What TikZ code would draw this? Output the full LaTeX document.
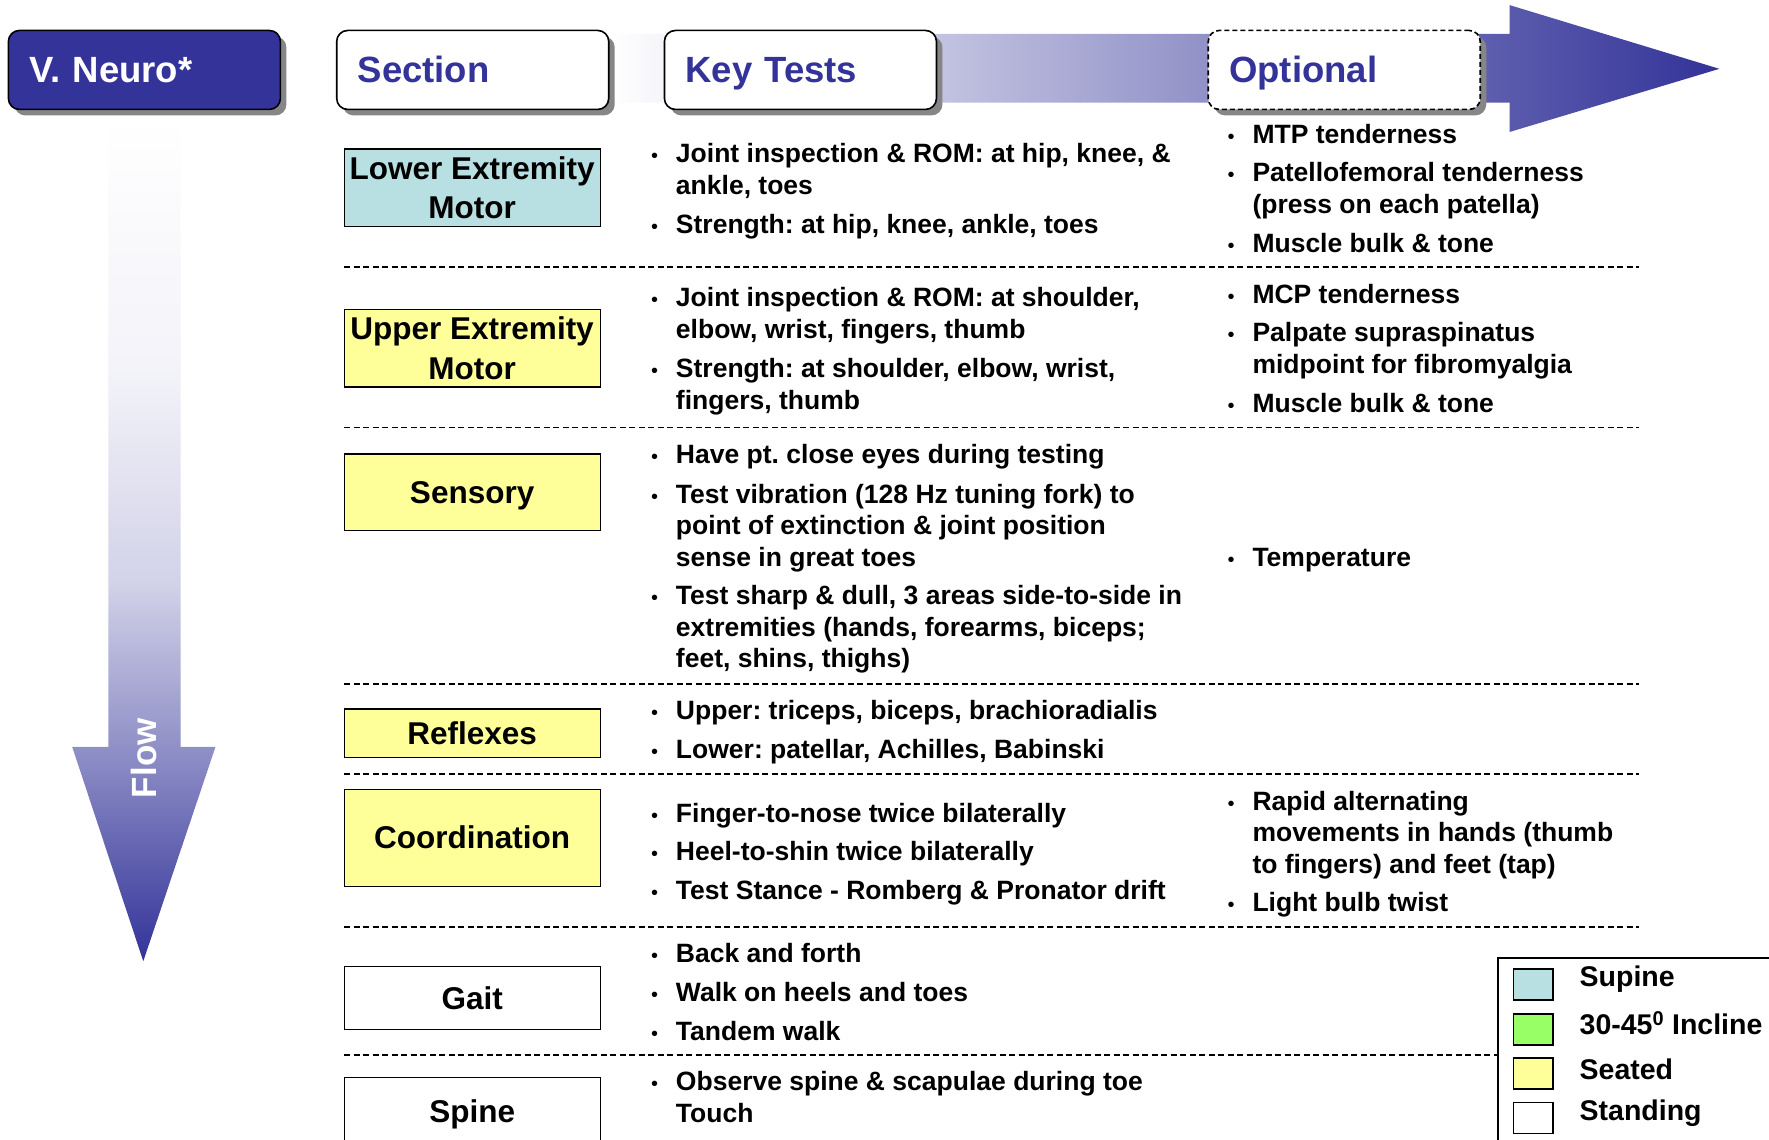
\documentclass[tikz,border=0pt]{standalone}
\usepackage{fontspec}
\setmainfont{Liberation Sans}
\usetikzlibrary{shadows}
\frenchspacing
\definecolor{navy}{HTML}{333399}
\definecolor{lblue}{HTML}{B8DFE2}
\definecolor{lyellow}{HTML}{FFFF99}
\definecolor{lgreen}{HTML}{99FF66}
\pgfdeclareverticalshading{flowshade}{100bp}{color(0bp)=(navy); color(25bp)=(navy);
  color(37.5bp)=(white!45!navy); color(47.5bp)=(white!78!navy);
  color(60bp)=(white!94!navy); color(75bp)=(white); color(100bp)=(white)}
\newcommand\toplines[1]{\begin{tabular}[t]{@{}l@{}}#1\end{tabular}}
\newcommand\kt[3]{\node[bul] (#1b) at (577,#2) {•}; \node[body] (#1) at (599,#2) {\toplines{#3}};}
\newcommand\op[3]{\node[bul] (#1b) at (1088,#2) {•}; \node[body] (#1) at (1110,#2) {\toplines{#3}};}
\begin{document}
\begin{tikzpicture}[x=1.1282pt,y=-1.1282pt,
  hdr/.style={draw=black, line width=1.6pt, rounded corners=11pt, fill=white,
    minimum width=272pt, minimum height=79pt, text width=230pt, inner xsep=21pt,
    text height=31pt, text depth=5pt,
    align=left, font=\bfseries\fontsize{36.5}{40}\selectfont, text=navy,
    drop shadow={shadow xshift=6pt, shadow yshift=-6pt, fill=gray!95, opacity=1}},
  sec/.style={draw=black, line width=1.3pt, minimum width=256pt, inner sep=0pt,
    align=center, font=\bfseries\fontsize{31.5}{39.5}\selectfont},
  sec1/.style={sec, text height=22.6pt, text depth=0pt},
  body/.style={anchor=base west, inner sep=0pt,
    font=\bfseries\fontsize{26.5}{31.6}\selectfont},
  bul/.style={anchor=base west, inner sep=0pt, font=\fontsize{20}{20}\selectfont},
  sepline/.style={line width=1.8pt, dash pattern=on 6pt off 3.5pt},
  sw/.style={draw=black, line width=1.4pt, minimum width=39.5pt, minimum height=31pt, inner sep=0pt},
  legtxt/.style={anchor=west, inner sep=0pt, font=\bfseries\fontsize{28.5}{32}\selectfont}]
\useasboundingbox (0,0) rectangle (1568,1010);
\clip (0,0) rectangle (1568,1010);
\fill[white] (0,0) rectangle (1568,1010);

% horizontal arrow
\path[left color=white, right color=navy]
  (540,30) -- (1338,30) -- (1338,4.5) -- (1524,61) -- (1338,117) -- (1338,91) -- (540,91) -- cycle;
% vertical arrow
\path[shading=flowshade]
  (96,105) -- (160,105) -- (160,662) -- (191,662) -- (127,852) -- (64,662) -- (96,662) -- cycle;
\node[rotate=90, text=white, font=\bfseries\fontsize{35}{40}\selectfont, inner sep=0pt] (flow) at (128,672) {Flow};

% header boxes
\node[hdr, fill=navy, text=white] (neuro) at (128,62) {V. Neuro*};
\node[hdr] (section) at (419,62) {Section};
\node[hdr] (keytests) at (709.5,62) {Key Tests};
\node[hdr, dash pattern=on 5pt off 3pt] (optional) at (1191.5,62) {Optional};

% section boxes
\node[sec, fill=lblue, minimum height=77.8pt] (le) at (418.5,166.5) {Lower Extremity\\Motor};
\node[sec, fill=lyellow, minimum height=77.8pt] (ue) at (418.5,308.5) {Upper Extremity\\Motor};
\node[sec1, fill=lyellow, minimum height=76.7pt] (sens) at (418.5,436.5) {Sensory};
\node[sec1, fill=lyellow, minimum height=48.5pt] (refl) at (418.5,650) {Reflexes};
\node[sec1, fill=lyellow, minimum height=97pt] (coord) at (418.5,742.5) {Coordination};
\node[sec1, fill=white, minimum height=63.2pt] (gait) at (418.5,884.5) {Gait};
\node[sec1, fill=white, minimum height=67.7pt] (spine) at (418.5,985) {Spine};

% separators
\draw[sepline] (305,237) -- (1453,237);
\draw[sepline] (305,379) -- (1453,379);
\draw[sepline] (305,606) -- (1453,606);
\draw[sepline] (305,686) -- (1453,686);
\draw[sepline] (305,822) -- (1453,822);
\draw[sepline] (305,935) -- (1328,935);

% key tests
\kt{k1}{144}{Joint inspection \& ROM: at hip, knee, \&\\ankle, toes}
\kt{k2}{207}{Strength: at hip, knee, ankle, toes}
\kt{k3}{272}{Joint inspection \& ROM: at shoulder,\\elbow, wrist, fingers, thumb}
\kt{k4}{335}{Strength: at shoulder, elbow, wrist,\\fingers, thumb}
\kt{k5}{411}{Have pt. close eyes during testing}
\kt{k6}{446}{Test vibration (128 Hz tuning fork) to\\point of extinction \& joint position\\sense in great toes}
\kt{k7}{536}{Test sharp \& dull, 3 areas side-to-side in\\extremities (hands, forearms, biceps;\\feet, shins, thighs)}
\kt{k8}{638}{Upper: triceps, biceps, brachioradialis}
\kt{k9}{672}{Lower: patellar, Achilles, Babinski}
\kt{k10}{729}{Finger-to-nose twice bilaterally}
\kt{k11}{763}{Heel-to-shin twice bilaterally}
\kt{k12}{797}{Test Stance - Romberg \& Pronator drift}
\kt{k13}{853}{Back and forth}
\kt{k14}{888}{Walk on heels and toes}
\kt{k15}{922}{Tandem walk}
\kt{k16}{967}{Observe spine \& scapulae during toe\\Touch}

% optional
\op{o1}{127}{MTP tenderness}
\op{o2}{161}{Patellofemoral tenderness\\(press on each patella)}
\op{o3}{224}{Muscle bulk \& tone}
\op{o4}{269}{MCP tenderness}
\op{o5}{303}{Palpate supraspinatus\\midpoint for fibromyalgia}
\op{o6}{366}{Muscle bulk \& tone}
\op{o7}{502}{Temperature}
\op{o8}{718}{Rapid alternating\\movements in hands (thumb\\to fingers) and feet (tap)}
\op{o9}{808}{Light bulb twist}

% legend
\draw[line width=1.6pt, fill=white] (1328,849) rectangle (1600,1060);
\node[sw, fill=lblue] (sw1) at (1359,872.5) {};
\node[sw, fill=lgreen] (sw2) at (1359,912.5) {};
\node[sw, fill=lyellow] (sw3) at (1359,951.5) {};
\node[sw, fill=white] (sw4) at (1359,991) {};
\node[legtxt] (lg1) at (1400,868) {Supine};
\node[legtxt] (lg2) at (1400,907) {30-45\textsuperscript{0} Incline};
\node[legtxt] (lg3) at (1400,948) {Seated};
\node[legtxt] (lg4) at (1400,987) {Standing};
\end{tikzpicture}
\end{document}
